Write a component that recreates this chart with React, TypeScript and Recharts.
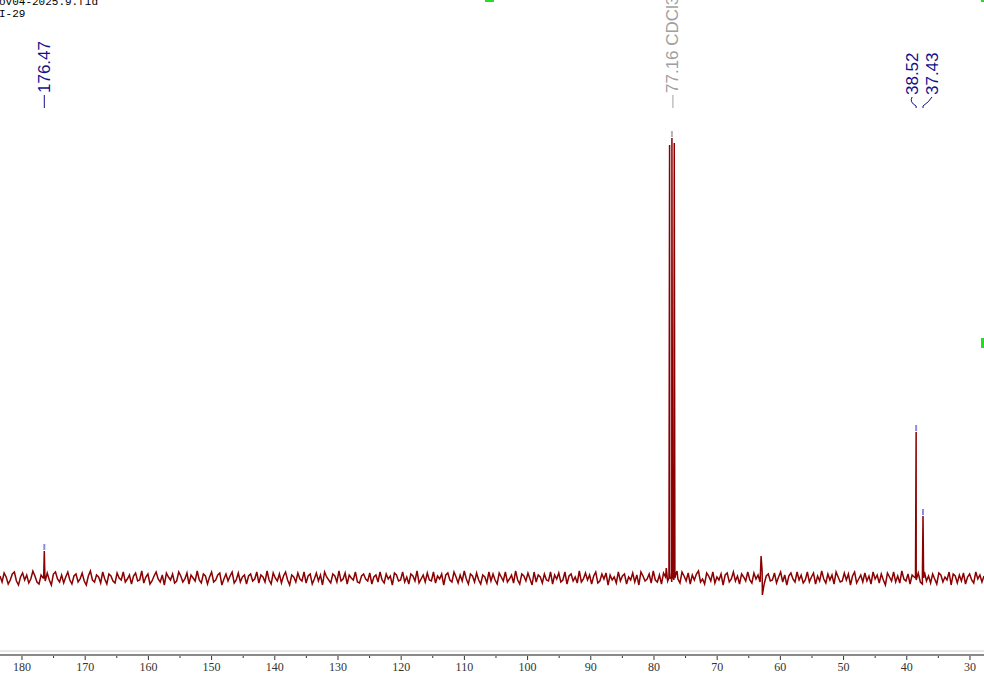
import { ComposedChart, Line, XAxis, YAxis, ReferenceDot, ReferenceLine } from 'recharts'

// baseline noise, read left (high ppm) to right (low ppm)
const noise = [
  2, -4, 5, 1, -6, -2, 4, 6, -3, -7, 1, 5, -2, 3, -5, -1, 7, 2, -4, -6, 3, 0, -3, 5, -2, -7, 4, 6, -1, -4,
  3, -5, 1, 6, -2, -6, 2, 4, -4, -1, 5, -3, -7, 2, 7, -2, -4, 3, 1, -5, 6, -1, -6, 4, 2, -3, -5, 5, 0, -2,
  6, -4, -1, 3, -6, 2, 5, -3, -2, 7, -5, 1, 4, -6, -3, 2, 6, -1, -4, 3, -7, 5, 1, -2, 4, -5, -3, 6, 2, -4,
  -1, 5, -6, 3, 0, -3, 7, -2, -5, 4, 2, -6, 1, 6, -4, -2, 3, 5, -7, -1, 4, -3, 2, 6, -5, -2, 5, -4, 1, 3,
  -6, 2, 4, -3, -1, 6, -5, 3, 1, -4, 7, -2, -6, 5, 0, -3, 4, -5, 2, 6, -2, -7, 3, 1, -4, 5, -1, -3, 6, -5,
  2, 4, -6, -1, 5, -3, 3, -7, 6, 1, -2, -5, 4, 2, -4, 7, -3, -1, 5, -6, 3, 0, -2, 6, -4, -5, 2, 4, -1, -3,
  5, -6, 1, 3, -4, 6, -2, -5, 4, -1, 2, -7, 5, 3, -3, -2, 6, -4, 1, -6, 4, 2, -3, 7, -5, -1, 3, -4, 5, -2,
  -3, 6, -5, 2, -1, 4, -7, 3, 5, -2, -4, 6, 1, -5, 3, -3, 7, -1, -6, 4, 2, -4, 5, -2, -6, 3, 1, -5, 6, -3,
  4, -2, -6, 5, 1, -3, 6, -4, -1, 3, -5, 7, -2, -6, 4, 2, -3, 5, -1, -7, 6, -4, 3, 1, -5, 4, -2, -3, 6, -6,
  3, -1, 5, -4, -2, 6, -6, 2, 4, -3, 1, -5, 7, -4, -1, 5, -2, 3, -6, 2, 6, -5, -3, 4, -1, 5, -7, 3, -2, 1,
  -5, 6, -3, 2, 4, -6, 1, -2, 5, -4, 3, -7, 6, 2, -3, -1, 4, -5, 7, -2, -4, 3, -6, 5, 1, -3, 6, -4, -2, 4,
  -1, -5, 6, 2, -3, 5, -6, 3, -2, 4, 7, -4, -1, -6, 5, 2, -3, 6, -5, 1, -2, 4, -7, 3, 5, -4, -1, 6, -3, 2,
  -6, 4, 1, -3, 6, -2, -5, 5, -1, 3, -4, 7, -6, 2, 4, -3, -2, 5, -5, 1, 6, -4, 3, -7, 2, 5, -1, -4, 6, -2,
  3, -5, -2, 6, -4, 1, 5, -6, 2, -3, 7, -1, -5, 4, -2, 3, -6, 6, 1, -4, -3, 5, -2, 4, -7, 2, 6, -5, -1, 3,
  -4, 5, -3, 2, -6, 6, -1, 3, -5, 4, -2, -7, 5, 1, -3, 6, -4, 2, -5, 7, -1, -3, 4, -6, 3, 1, -2, 5, -4, -6,
  6, -3, 2, -5, 4, -1, -6, 5, 3, -4, 1, -2, 6, -7, 4, 2, -5, 3, -3, 5, -6, 1, 4, -2, -5, 6, -1, 3, -4, 2,
]

const peakPpm = [176.47, 77.53, 77.16, 76.79, 38.52, 37.43]
const peakHeight = [27, 433, 440, 435, 146, 62]

// small baseline features (solvent foot, artefact near 63 ppm)
const featurePpm = [78.05, 76.35, 63.05, 62.85]
const featureValue = [10, 7, 22, -17]

const labelPpm = [176.47, 77.16, 38.52, 37.43]
const labelText = ['176.47', '77.16 CDCl3', '38.52', '37.43']

const majorTicks = [180, 170, 160, 150, 140, 130, 120, 110, 100, 90, 80, 70, 60, 50, 40, 30]
const minorTicks = [175, 165, 155, 145, 135, 125, 115, 105, 95, 85, 75, 65, 55, 45, 35]

const X_MAX = 183.48
const X_MIN = 27.78
const Y_MIN = -77
const Y_MAX = 578
const LABEL_Y = 470

const RED = '#8b0000'
const NAVY = '#10108a'

const spectrum = (() => {
  const pts: { ppm: number; v: number }[] = noise.map((v, i) => ({
    ppm: X_MAX - (i * (X_MAX - X_MIN)) / (noise.length - 1),
    v,
  }))
  peakPpm.forEach((p, i) => {
    pts.push({ ppm: p + 0.1, v: 0 }, { ppm: p, v: peakHeight[i] }, { ppm: p - 0.1, v: 0 })
  })
  featurePpm.forEach((p, i) => pts.push({ ppm: p, v: featureValue[i] }))
  return pts.sort((a, b) => b.ppm - a.ppm)
})()

const allTicks = [...majorTicks, ...minorTicks].sort((a, b) => b - a)

function AxisTick(props: any) {
  const { x, y, payload } = props
  const major = payload.value % 10 === 0
  return (
    <g>
      <line x1={x} x2={x} y1={y + 1} y2={y + (major ? 5 : 3)} stroke="#333" />
      {major && (
        <text x={x} y={y + 16} textAnchor="middle" fontSize={12} fill="#333" fontFamily="'Liberation Serif', serif">
          {payload.value}
        </text>
      )}
    </g>
  )
}

function PeakLabel({ cx, cy, text, idx }: any) {
  const gray = idx === 1
  const color = gray ? '#a0a0a0' : NAVY
  const font = "'Liberation Sans', Arial, sans-serif"
  if (idx < 2) {
    const tx = cx + (gray ? 1 : 0)
    return (
      <g>
        <line x1={tx} x2={tx} y1={cy} y2={cy - 13} stroke={color} strokeWidth={1} />
        <text
          x={tx}
          y={cy - 15}
          transform={`rotate(-90, ${tx}, ${cy - 15})`}
          textAnchor="start"
          dominantBaseline="central"
          fontSize={17}
          fill={color}
          fontFamily={font}
        >
          {text}
        </text>
      </g>
    )
  }
  const tx = cx + (idx === 2 ? -4 : 9)
  return (
    <g>
      <path
        d={`M${cx},${cy} L${cx},${cy - 2} Q${tx - 3},${cy - 6} ${tx},${cy - 11}`}
        fill="none"
        stroke={color}
        strokeWidth={1}
      />
      <text
        x={tx}
        y={cy - 13}
        transform={`rotate(-90, ${tx}, ${cy - 13})`}
        textAnchor="start"
        dominantBaseline="central"
        fontSize={17}
        fill={color}
        fontFamily={font}
      >
        {text}
      </text>
    </g>
  )
}

function PeakMark({ cx, cy, gray }: any) {
  return <line x1={cx} x2={cx} y1={cy - 1} y2={cy - 7} stroke={gray ? '#b4b4b4' : '#8c8ce6'} strokeWidth={2} />
}

export default function App() {
  return (
    <div style={{ position: 'absolute', left: 0, top: 0, width: 984, height: 675, background: '#fff' }}>
      <div
        style={{
          position: 'absolute',
          left: -1,
          top: -4,
          fontFamily: "'Liberation Mono', monospace",
          fontSize: 11,
          lineHeight: '12px',
          color: '#000',
          zIndex: 2,
        }}
      >
        <div>ov04-2025.9.fid</div>
        <div>I-29</div>
      </div>
      <div style={{ position: 'absolute', left: 485, top: 0, width: 9, height: 2, background: '#22dd22' }} />
      <div style={{ position: 'absolute', left: 981, top: 0, width: 3, height: 2, background: '#22dd22' }} />
      <div style={{ position: 'absolute', left: 981, top: 338, width: 3, height: 10, background: '#22dd22' }} />
      <ComposedChart width={984} height={675} data={spectrum} margin={{ top: 0, right: 0, bottom: 0, left: 0 }}>
        <XAxis
          dataKey="ppm"
          type="number"
          domain={[X_MIN, X_MAX]}
          reversed
          allowDataOverflow
          ticks={allTicks}
          interval={0}
          tick={<AxisTick />}
          tickLine={false}
          tickSize={0}
          tickMargin={0}
          axisLine={{ stroke: '#8a8a8a', strokeWidth: 2 }}
          height={20}
        />
        <YAxis hide type="number" domain={[Y_MIN, Y_MAX]} allowDataOverflow />
        <ReferenceLine y={-73} stroke="#d0d0d0" strokeWidth={1} />
        <Line
          type="linear"
          dataKey="v"
          stroke={RED}
          strokeWidth={1.5}
          dot={false}
          isAnimationActive={false}
        />
        {peakPpm
          .filter((p) => labelPpm.includes(p))
          .map((p) => {
            const i = peakPpm.indexOf(p)
            return (
              <ReferenceDot
                key={'m' + p}
                x={p}
                y={peakHeight[i]}
                r={0}
                ifOverflow="visible"
                shape={(sp: any) => <PeakMark cx={sp.cx} cy={sp.cy} gray={p === 77.16} />}
              />
            )
          })}
        {labelPpm.map((p, i) => (
          <ReferenceDot
            key={'l' + p}
            x={p}
            y={LABEL_Y}
            r={0}
            ifOverflow="visible"
            shape={(sp: any) => <PeakLabel cx={sp.cx} cy={sp.cy} text={labelText[i]} idx={i} />}
          />
        ))}
      </ComposedChart>
    </div>
  )
}
